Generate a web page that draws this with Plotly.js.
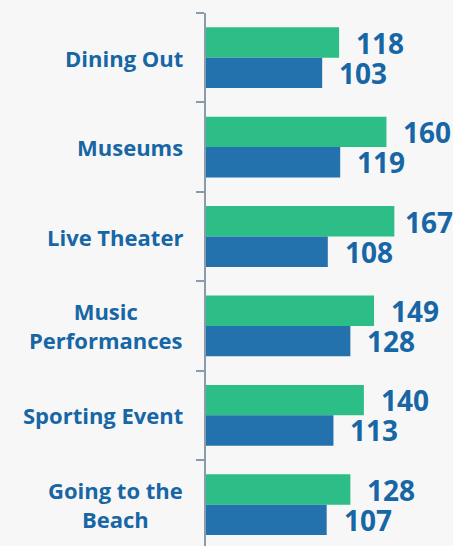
<!DOCTYPE html>
<html>
<head>
<meta charset="utf-8">
<script src="https://cdn.plot.ly/plotly-3.0.1.min.js"></script>
<style>
  html, body { margin: 0; padding: 0; background: #f7f7f7; overflow: hidden; }
  #chart { width: 453px; height: 546px; }
</style>
</head>
<body>
<div id="chart"></div>
<script>
const categories = ["Dining Out", "Museums", "Live Theater", "Music<br>Performances", "Sporting Event", "Going to the<br>Beach"];
const seriesGreen = [118, 160, 167, 149, 140, 128];
const seriesBlue = [103, 119, 108, 128, 113, 107];

const labelColor = "#1766a5";
const valueFont = { family: "Open Sans, sans-serif", size: 28, color: labelColor, weight: 700 };
const catFont = { family: "Open Sans, sans-serif", size: 22, color: labelColor, weight: 700 };

const W = 453, H = 546;
const margin = { l: 206, r: 0, t: 13, b: 0 };
const xRange = [0, 219];
const pxPerUnit = (W - margin.l - margin.r) / (xRange[1] - xRange[0]);
const gap = 17;
const labelW = 46;

function labelShift(v) {
  // keep the label inside the picture, as the reference does
  const barEnd = margin.l + v * pxPerUnit;
  const room = W - 2 - (barEnd + gap + labelW);
  return room < 0 ? Math.max(6, gap + room) : gap;
}

const traces = [
  {
    type: "bar", orientation: "h", name: "A",
    y: categories, x: seriesGreen,
    marker: { color: "#2dbd86" },
    hoverinfo: "none"
  },
  {
    type: "bar", orientation: "h", name: "B",
    y: categories, x: seriesBlue,
    marker: { color: "#2371ad" },
    hoverinfo: "none"
  }
];

const annotations = [];
categories.forEach((c, i) => {
  annotations.push({
    x: 0, y: c, xref: "paper", yref: "y",
    text: c, showarrow: false, align: "center",
    xanchor: "right", yanchor: "middle", xshift: -21,
    font: catFont
  });
  annotations.push({
    x: seriesGreen[i], y: c, xref: "x", yref: "y",
    text: String(seriesGreen[i]), showarrow: false,
    xanchor: "left", yanchor: "middle", xshift: labelShift(seriesGreen[i]) - 2, yshift: 15,
    font: valueFont
  });
  annotations.push({
    x: seriesBlue[i], y: c, xref: "x", yref: "y",
    text: String(seriesBlue[i]), showarrow: false,
    xanchor: "left", yanchor: "middle", xshift: labelShift(seriesBlue[i]) - 2, yshift: -15,
    font: valueFont
  });
});

const layout = {
  width: W, height: H,
  margin: { l: margin.l, r: margin.r, t: margin.t, b: margin.b, pad: 0 },
  paper_bgcolor: "#f7f7f7",
  plot_bgcolor: "#f7f7f7",
  showlegend: false,
  barmode: "group",
  bargap: 0.32,
  bargroupgap: 0,
  xaxis: {
    range: xRange,
    visible: false,
    fixedrange: true
  },
  yaxis: {
    type: "category",
    range: [5.462, -0.5],
    showline: true, linecolor: "#8b9bab", linewidth: 2,
    ticks: "outside", tickson: "boundaries", ticklen: 8, tickwidth: 2, tickcolor: "#8b9bab",
    showgrid: false, zeroline: false,
    showticklabels: false,
    fixedrange: true
  },
  annotations: annotations
};

Plotly.newPlot("chart", traces, layout, { displayModeBar: false, staticPlot: true });
</script>
</body>
</html>
